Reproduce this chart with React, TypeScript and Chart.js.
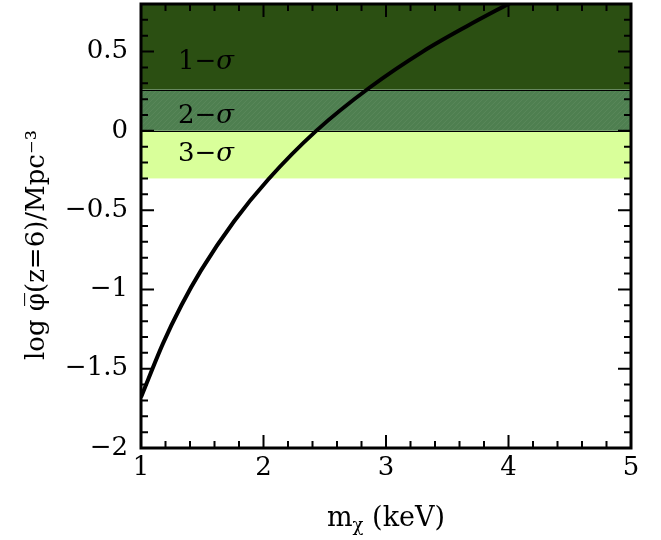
import React, { useEffect, useRef } from "react";
import { Chart, registerables } from "chart.js";

Chart.register(...registerables);

const massKeV = [1.0, 1.18, 1.33, 1.49, 1.76, 2.04, 2.43, 2.87, 3.3, 3.66, 4.01];
const logPhi = [-1.68, -1.34, -1.1, -0.88, -0.57, -0.305, 0.0, 0.275, 0.5, 0.66, 0.805];

const bandNums = ["1−", "2−", "3−"];
const bandSym = "σ";
const bandLow = [0.26, 0.0, -0.3];
const bandHigh = [0.8, 0.26, 0.0];
const bandColors = ["#2b4f12", "#4e7f50", "#d9ff9a"];
const bandLabelY = [0.435, 0.09, -0.15];

const xTicks = [1, 2, 3, 4, 5];
const yTicks = [-2, -1.5, -1, -0.5, 0, 0.5];

const FONT = "'DejaVu Serif', 'Liberation Serif', serif";

const fmt = (v: number) => (v < 0 ? "−" + String(Math.abs(v)) : String(v));

const framePlugin = {
  id: "frame",
  beforeDatasetsDraw(chart: any) {
    const { ctx, chartArea: a, scales } = chart;
    const y = scales.y;
    ctx.save();
    for (let i = 0; i < bandNums.length; i++) {
      const top = y.getPixelForValue(bandHigh[i]);
      const bot = y.getPixelForValue(bandLow[i]);
      ctx.fillStyle = bandColors[i];
      ctx.fillRect(a.left, top, a.right - a.left, bot - top);
      if (i === 1) {
        ctx.save();
        ctx.beginPath();
        ctx.rect(a.left, top, a.right - a.left, bot - top);
        ctx.clip();
        ctx.strokeStyle = "rgba(120,160,120,0.3)";
        ctx.lineWidth = 1;
        for (let s = a.left - 60; s < a.right + 60; s += 5) {
          ctx.beginPath();
          ctx.moveTo(s, bot);
          ctx.lineTo(s + (bot - top), top);
          ctx.stroke();
        }
        ctx.restore();
      }
    }
    ctx.strokeStyle = "#000";
    ctx.lineWidth = 1;
    [bandLow[0], bandLow[1]].forEach((v) => {
      const p = Math.round(y.getPixelForValue(v)) + 0.5;
      ctx.beginPath();
      ctx.moveTo(a.left, p);
      ctx.lineTo(a.right, p);
      ctx.stroke();
    });
    ctx.fillStyle = "#000";
    ctx.textAlign = "left";
    ctx.textBaseline = "middle";
    for (let i = 0; i < bandNums.length; i++) {
      const py = y.getPixelForValue(bandLabelY[i]);
      ctx.font = "26px " + FONT;
      ctx.fillText(bandNums[i], 178, py);
      const w = ctx.measureText(bandNums[i]).width;
      ctx.font = "italic 26px " + FONT;
      ctx.fillText(bandSym, 178 + w, py);
    }
    ctx.restore();
  },
  afterDraw(chart: any) {
    const { ctx, chartArea: a, scales } = chart;
    const x = scales.x;
    const y = scales.y;
    ctx.save();
    ctx.strokeStyle = "#000";
    ctx.lineWidth = 2;
    const major = 13;
    const minor = 7;
    for (let k = 0; k <= 20; k++) {
      const v = 1 + k * 0.2;
      const px = x.getPixelForValue(v);
      const len = k % 5 === 0 ? major : minor;
      ctx.beginPath();
      ctx.moveTo(px, a.bottom);
      ctx.lineTo(px, a.bottom - len);
      ctx.moveTo(px, a.top);
      ctx.lineTo(px, a.top + len);
      ctx.stroke();
    }
    for (let k = 0; k <= 28; k++) {
      const v = -2 + k * 0.1;
      const py = y.getPixelForValue(v);
      const len = k % 5 === 0 ? major : minor;
      ctx.beginPath();
      ctx.moveTo(a.left, py);
      ctx.lineTo(a.left + len, py);
      ctx.moveTo(a.right, py);
      ctx.lineTo(a.right - len, py);
      ctx.stroke();
    }
    ctx.lineWidth = 3;
    ctx.strokeRect(a.left, a.top, a.right - a.left, a.bottom - a.top);

    ctx.fillStyle = "#000";
    ctx.textBaseline = "alphabetic";
    ctx.textAlign = "left";
    const big = "27px " + FONT;
    const small = "18px " + FONT;
    const xt1 = "m";
    const xt2 = "χ";
    const xt3 = " (keV)";
    ctx.font = big;
    const w1 = ctx.measureText(xt1).width;
    const w3 = ctx.measureText(xt3).width;
    ctx.font = small;
    const w2 = ctx.measureText(xt2).width;
    const cx = (a.left + a.right) / 2;
    const sx = cx - (w1 + w2 + w3) / 2;
    const by = 526;
    ctx.font = big;
    ctx.fillText(xt1, sx, by);
    ctx.font = small;
    ctx.fillText(xt2, sx + w1, by + 5);
    ctx.font = big;
    ctx.fillText(xt3, sx + w1 + w2, by);

    ctx.save();
    ctx.translate(44, 245);
    ctx.rotate(-Math.PI / 2);
    ctx.textAlign = "center";
    ctx.font = "26px " + FONT;
    ctx.fillText("log φ\u0305(z=6)/Mpc\u207B\u00B3", 0, 0);
    ctx.restore();
    ctx.restore();
  },
};

export default function App() {
  const ref = useRef<HTMLCanvasElement | null>(null);
  useEffect(() => {
    if (!ref.current) return;
    const chart = new Chart(ref.current, {
      type: "line",
      data: {
        datasets: [
          {
            data: massKeV.map((m, i) => ({ x: m, y: logPhi[i] })),
            borderColor: "#000",
            borderWidth: 4,
            pointRadius: 0,
            cubicInterpolationMode: "monotone",
            fill: false,
          },
        ],
      },
      options: {
        animation: false,
        responsive: false,
        maintainAspectRatio: false,
        layout: { padding: { top: 4, right: 30, left: 0, bottom: 0 } },
        plugins: { legend: { display: false }, tooltip: { enabled: false } },
        scales: {
          x: {
            type: "linear",
            min: 1,
            max: 5,
            afterBuildTicks: (s: any) => {
              s.ticks = xTicks.map((v) => ({ value: v }));
            },
            afterFit: (s: any) => {
              s.height = 92;
              s.paddingLeft = 0;
              s.paddingRight = 0;
            },
            grid: { display: false, drawTicks: false },
            border: { display: false },
            ticks: {
              color: "#000",
              font: { family: FONT, size: 26 },
              padding: 5,
              maxRotation: 0,
              autoSkip: false,
              callback: (v: any) => fmt(Number(v)),
            },
          },
          y: {
            type: "linear",
            min: -2,
            max: 0.8,
            afterBuildTicks: (s: any) => {
              s.ticks = yTicks.map((v) => ({ value: v }));
            },
            afterFit: (s: any) => {
              s.width = 141;
              s.paddingTop = 0;
              s.paddingBottom = 0;
            },
            grid: { display: false, drawTicks: false },
            border: { display: false },
            ticks: {
              color: "#000",
              font: { family: FONT, size: 26 },
              padding: 13,
              autoSkip: false,
              callback: (v: any) => fmt(Number(v)),
            },
          },
        },
      },
      plugins: [framePlugin],
    } as any);
    return () => chart.destroy();
  }, []);
  return (
    <div style={{ position: "absolute", left: 0, top: 0, width: 661, height: 540, background: "#fff" }}>
      <canvas ref={ref} width={661} height={540} style={{ width: 661, height: 540, display: "block" }} />
    </div>
  );
}
